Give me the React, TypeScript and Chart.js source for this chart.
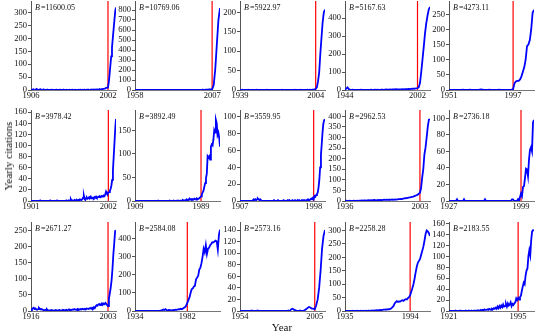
import React, { useEffect, useRef } from "react";
import { Chart, registerables } from "chart.js";

Chart.register(...registerables);

const B_VALUES = [11600.05, 10769.06, 5922.97, 5167.63, 4273.11, 3978.42, 3892.49, 3559.95, 2962.53, 2736.18, 2671.27, 2584.08, 2573.16, 2258.28, 2183.55];
const START_YEARS = [1906, 1958, 1939, 1944, 1951, 1901, 1909, 1907, 1936, 1927, 1916, 1934, 1954, 1935, 1921];
const AWAKE_YEARS = [2002, 2007, 2004, 2002, 1997, 2002, 1989, 1998, 2003, 1999, 2003, 1982, 2005, 1994, 1995];
const END_YEAR = 2012;
const Y_MAX = [345, 890, 229, 495, 294, 164, 193, 108, 430, 110, 276, 493, 154, 332, 163];
const Y_STEP = [50, 100, 50, 100, 50, 20, 50, 20, 50, 20, 50, 100, 20, 50, 20];
const Y_TOP_TICK = [300, 800, 200, 400, 250, 160, 150, 100, 400, 100, 250, 400, 140, 300, 160];

// yearly citations, one value per year from the start year to 2012
const CITES_1 = [
  0, 1, 2, 3, 1, 0, 2, 4, 1, 0,
  1, 2, 3, 1, 0, 1, 2, 1, 0, 1,
  0, 1, 0, 0, 1, 0, 0, 1, 0, 0,
  0, 0, 1, 0, 0, 0, 0, 1, 0, 0,
  0, 1, 0, 0, 1, 0, 0, 0, 1, 0,
  0, 0, 1, 0, 0, 1, 0, 0, 0, 1,
  0, 0, 1, 0, 1, 0, 0, 1, 0, 1,
  0, 1, 1, 0, 1, 2, 1, 1, 2, 1,
  2, 1, 2, 2, 1, 2, 3, 2, 3, 3,
  4, 4, 5, 7, 8, 9, 10, 30, 60, 95,
  130, 165, 200, 235, 270, 305, 320,
];
const CITES_2 = [
  0, 0, 1, 0, 0, 0, 1, 0, 0, 0,
  0, 0, 0, 1, 0, 0, 0, 0, 1, 0,
  0, 0, 0, 1, 0, 0, 1, 0, 0, 1,
  0, 1, 0, 0, 1, 1, 0, 1, 1, 2,
  1, 2, 2, 3, 2, 3, 4, 5, 6, 8,
  50, 210, 460, 700, 820,
];
const CITES_3 = [
  0, 0, 1, 0, 0, 0, 0, 1, 0, 0,
  0, 0, 0, 0, 1, 0, 0, 0, 0, 0,
  0, 0, 0, 1, 0, 0, 0, 0, 0, 0,
  0, 0, 0, 0, 0, 0, 1, 0, 0, 0,
  0, 0, 0, 0, 0, 0, 0, 1, 0, 0,
  0, 0, 1, 0, 0, 0, 0, 0, 1, 0,
  1, 0, 1, 1, 1, 3, 7, 22, 45, 94,
  135, 175, 200, 207,
];
const CITES_4 = [
  2, 8, 15, 5, 2, 1, 2, 1, 0, 1,
  1, 0, 1, 2, 1, 0, 1, 1, 0, 1,
  1, 2, 1, 1, 2, 1, 2, 1, 1, 2,
  2, 1, 2, 3, 2, 2, 3, 2, 3, 3,
  3, 4, 3, 3, 4, 4, 5, 4, 5, 5,
  5, 6, 5, 6, 7, 7, 8, 9, 10, 15,
  40, 100, 170, 240, 315, 370, 413, 448, 462,
];
const CITES_5 = [
  0, 0, 0, 0, 0, 0, 0, 0, 0, 0,
  1, 0, 0, 0, 0, 1, 0, 0, 0, 0,
  0, 0, 1, 2, 1, 0, 0, 0, 0, 1,
  0, 0, 0, 0, 0, 0, 1, 0, 0, 0,
  0, 0, 0, 0, 0, 1, 3, 22, 28, 30,
  30, 35, 45, 60, 75, 100, 145, 150, 165, 200,
  255, 265,
];
const CITES_6 = [
  0, 0, 0, 0, 0, 0, 0, 0, 0, 0,
  0, 0, 1, 0, 0, 0, 0, 0, 0, 0,
  0, 0, 0, 0, 0, 1, 0, 0, 0, 0,
  0, 0, 0, 0, 1, 0, 0, 0, 0, 0,
  0, 0, 0, 0, 0, 0, 1, 0, 0, 1,
  0, 1, 3, 0, 1, 0, 1, 2, 1, 1,
  2, 1, 2, 1, 3, 2, 2, 3, 6, 10,
  4, 2, 5, 6, 4, 5, 7, 6, 8, 5,
  5, 6, 5, 7, 6, 8, 6, 7, 8, 7,
  8, 7, 9, 8, 9, 10, 9, 12, 17, 14,
  12, 15, 16, 18, 22, 28, 38, 55, 80, 105,
  130, 148,
];
const CITES_7 = [
  0, 0, 0, 0, 0, 0, 0, 0, 0, 0,
  0, 0, 0, 0, 0, 0, 0, 0, 0, 0,
  0, 0, 0, 0, 0, 0, 0, 0, 1, 0,
  0, 0, 0, 0, 0, 0, 0, 0, 0, 0,
  0, 0, 1, 0, 0, 0, 0, 1, 0, 0,
  0, 1, 0, 1, 0, 1, 1, 0, 2, 1,
  1, 2, 1, 3, 2, 2, 5, 3, 4, 3,
  4, 3, 5, 4, 3, 5, 4, 5, 6, 8,
  10, 14, 18, 22, 30, 38, 48, 58, 95, 92,
  95, 88, 115, 120, 118, 130, 150, 145, 172, 165,
  140, 145, 135, 115,
];
const CITES_8 = [
  0, 0, 0, 0, 0, 0, 0, 0, 0, 0,
  0, 0, 0, 0, 0, 0, 1, 2, 1, 2,
  1, 2, 3, 2, 1, 2, 1, 0, 0, 0,
  0, 0, 0, 0, 0, 0, 0, 0, 0, 0,
  0, 0, 1, 0, 0, 0, 0, 1, 0, 0,
  0, 0, 0, 0, 1, 0, 0, 0, 0, 1,
  0, 1, 0, 0, 0, 1, 0, 0, 1, 0,
  0, 1, 0, 1, 0, 0, 1, 1, 0, 1,
  1, 0, 1, 1, 2, 1, 1, 2, 3, 2,
  3, 2, 6, 5, 7, 8, 10, 16, 25, 40,
  55, 68, 82, 92, 96, 97,
];
const CITES_9 = [
  0, 1, 0, 0, 1, 0, 0, 0, 1, 0,
  1, 2, 1, 2, 2, 3, 2, 3, 3, 2,
  3, 4, 3, 4, 3, 4, 5, 4, 3, 4,
  5, 4, 5, 4, 5, 6, 5, 6, 5, 6,
  6, 5, 7, 6, 7, 8, 7, 8, 9, 9,
  10, 9, 11, 12, 13, 14, 15, 16, 17, 18,
  20, 21, 23, 25, 27, 30, 34, 39, 60, 110,
  150, 220, 252, 300, 350, 384, 386,
];
const CITES_10 = [
  0, 0, 0, 0, 0, 0, 0, 0, 2, 0,
  0, 0, 0, 0, 0, 2, 0, 0, 0, 0,
  0, 0, 0, 0, 0, 0, 0, 0, 0, 0,
  0, 0, 0, 0, 0, 0, 2, 0, 0, 0,
  0, 0, 0, 0, 0, 0, 0, 0, 0, 0,
  0, 0, 0, 0, 0, 0, 0, 0, 0, 0,
  0, 0, 0, 2, 2, 0, 0, 0, 0, 2,
  0, 5, 9, 6, 17, 18, 28, 39, 38, 30,
  50, 62, 65, 60, 95, 98,
];
const CITES_11 = [
  3, 5, 8, 10, 6, 8, 5, 4, 6, 10,
  7, 5, 6, 4, 3, 2, 4, 3, 5, 2,
  2, 1, 2, 3, 2, 1, 2, 1, 3, 2,
  1, 2, 3, 2, 1, 2, 4, 3, 2, 3,
  4, 2, 3, 5, 3, 4, 3, 5, 4, 6,
  4, 5, 3, 6, 5, 4, 6, 5, 7, 6,
  5, 7, 6, 8, 7, 6, 8, 9, 7, 10,
  8, 12, 9, 14, 18, 16, 20, 22, 18, 21,
  24, 19, 23, 21, 25, 22, 18, 15, 38, 55,
  72, 95, 130, 175, 210, 248, 250,
];
const CITES_12 = [
  0, 0, 0, 0, 1, 0, 0, 0, 0, 0,
  0, 0, 0, 0, 1, 0, 0, 0, 0, 0,
  0, 1, 0, 2, 3, 5, 8, 6, 10, 5,
  4, 6, 5, 3, 4, 6, 5, 7, 6, 8,
  10, 9, 12, 10, 14, 18, 22, 30, 45, 60,
  75, 100, 120, 125, 135, 140, 175, 185, 195, 230,
  240, 265, 300, 345, 325, 365, 316, 345, 350, 365,
  372, 381, 380, 385, 390, 385, 340, 420, 450,
];
const CITES_13 = [
  0, 0, 0, 0, 0, 0, 0, 0, 1, 0,
  0, 0, 1, 0, 0, 0, 0, 0, 0, 0,
  0, 0, 0, 0, 0, 0, 0, 0, 0, 0,
  0, 0, 0, 1, 0, 3, 4, 2, 1, 0,
  0, 1, 0, 0, 1, 3, 5, 7, 6, 4,
  4, 3, 10, 20, 40, 70, 108, 130, 140,
];
const CITES_14 = [
  0, 0, 0, 0, 0, 0, 0, 1, 0, 0,
  0, 1, 0, 0, 1, 0, 0, 1, 0, 1,
  0, 1, 1, 0, 2, 1, 1, 2, 2, 3,
  2, 3, 4, 3, 4, 5, 5, 6, 5, 7,
  6, 8, 10, 14, 19, 28, 33, 37, 34, 36,
  35, 38, 40, 38, 42, 44, 43, 48, 52, 58,
  72, 85, 100, 120, 144, 165, 180, 187, 194, 210,
  225, 240, 262, 287, 300, 297, 290, 280,
];
const CITES_15 = [
  0, 0, 0, 0, 0, 0, 0, 1, 0, 0,
  0, 0, 1, 0, 0, 0, 0, 0, 1, 0,
  0, 1, 0, 0, 1, 0, 0, 1, 0, 1,
  0, 1, 1, 0, 2, 1, 2, 1, 3, 2,
  2, 3, 2, 4, 3, 2, 4, 3, 5, 4,
  6, 4, 8, 5, 9, 6, 10, 7, 12, 8,
  9, 13, 8, 14, 10, 12, 16, 9, 13, 11,
  14, 16, 23, 20, 24, 21, 25, 28, 37, 45,
  52, 49, 65, 74, 78, 100, 111, 102, 130, 146, 148, 147,
];

const SERIES = [CITES_1, CITES_2, CITES_3, CITES_4, CITES_5, CITES_6, CITES_7, CITES_8, CITES_9, CITES_10, CITES_11, CITES_12, CITES_13, CITES_14, CITES_15];

const COL_X = [31, 135, 240, 345, 449];
const ROW_TOP = [1, 110, 222];
const ROW_H = [89, 91, 89];
const PLOT_W = 85;
const AXIS_W = 30;
const PAD_TOP = 8;
const PAD_RIGHT = 6;
const XAXIS_H = 14;
const FONT_FAMILY = "'Liberation Serif', 'Times New Roman', serif";

function Panel({ idx }: { idx: number }) {
  const ref = useRef<HTMLCanvasElement | null>(null);
  const row = Math.floor(idx / 5);
  const col = idx % 5;
  const W = AXIS_W + PLOT_W + PAD_RIGHT;
  const H = PAD_TOP + ROW_H[row] + XAXIS_H;
  const left = COL_X[col] - AXIS_W;
  const top = ROW_TOP[row] - PAD_TOP;

  useEffect(() => {
    const start = START_YEARS[idx];
    const awake = AWAKE_YEARS[idx];
    const ymax = Y_MAX[idx];
    const step = Y_STEP[idx];
    const topTick = Y_TOP_TICK[idx];
    const bPlugin = {
      id: "bLabel",
      afterDatasetsDraw(chart: any) {
        const { ctx, chartArea } = chart;
        ctx.save();
        ctx.fillStyle = "#111";
        ctx.textBaseline = "middle";
        const x0 = chartArea.left + 4;
        const y0 = chartArea.top + 7;
        ctx.font = "italic 8px " + FONT_FAMILY;
        ctx.fillText("B", x0, y0);
        const w = ctx.measureText("B").width;
        ctx.font = "8px " + FONT_FAMILY;
        ctx.fillText("=" + B_VALUES[idx].toFixed(2), x0 + w + 1, y0);
        ctx.restore();
      },
    };
    const chart = new Chart(ref.current as HTMLCanvasElement, {
      type: "line",
      data: {
        datasets: [
          {
            data: SERIES[idx].map((v, i) => ({ x: start + i, y: v })),
            borderColor: "#0000ff",
            borderWidth: 1.8,
            pointRadius: 0,
            tension: 0,
          },
          {
            data: [
              { x: awake, y: 0 },
              { x: awake, y: ymax },
            ],
            borderColor: "#ff0000",
            borderWidth: 1.2,
            pointRadius: 0,
          },
        ],
      },
      options: {
        responsive: false,
        animation: false,
        events: [],
        layout: { padding: { top: PAD_TOP, right: PAD_RIGHT, left: 0, bottom: 0 } },
        plugins: { legend: { display: false }, tooltip: { enabled: false } },
        scales: {
          x: {
            type: "linear",
            min: start,
            max: END_YEAR,
            afterBuildTicks: (s: any) => {
              s.ticks = [{ value: start }, { value: awake }];
            },
            afterFit: (s: any) => {
              s.height = XAXIS_H;
            },
            grid: { display: false, drawTicks: false },
            border: { display: true, color: "#777", width: 1 },
            ticks: {
              autoSkip: false,
              maxRotation: 0,
              padding: 1,
              color: "#111",
              font: { family: FONT_FAMILY, size: 8.5 },
              callback: (v: any) => String(v),
            },
          },
          y: {
            type: "linear",
            min: 0,
            max: ymax,
            afterBuildTicks: (s: any) => {
              const t: { value: number }[] = [];
              for (let v = 0; v <= topTick; v += step) t.push({ value: v });
              s.ticks = t;
            },
            afterFit: (s: any) => {
              s.width = AXIS_W;
            },
            grid: { drawOnChartArea: false, drawTicks: true, tickLength: 3, color: "#555" },
            border: { display: true, color: "#555", width: 1 },
            ticks: {
              autoSkip: false,
              padding: 1,
              color: "#111",
              font: { family: FONT_FAMILY, size: 8.5 },
              callback: (v: any) => String(v),
            },
          },
        },
      } as any,
      plugins: [bPlugin],
    });
    return () => chart.destroy();
  }, [idx]);

  return (
    <canvas
      ref={ref}
      width={W}
      height={H}
      style={{ position: "absolute", left, top, width: W, height: H }}
    />
  );
}

export default function App() {
  return (
    <div style={{ position: "absolute", left: 0, top: 0, width: 538, height: 333, background: "#fff", overflow: "hidden" }}>
      {SERIES.map((_, i) => (
        <Panel key={i} idx={i} />
      ))}
      <div
        style={{
          position: "absolute",
          left: 8,
          top: 156,
          transform: "translate(-50%, -50%) rotate(-90deg)",
          fontFamily: FONT_FAMILY,
          fontSize: 11,
          whiteSpace: "nowrap",
          color: "#111",
        }}
      >
        Yearly citations
      </div>
      <div
        style={{
          position: "absolute",
          left: 282,
          top: 327,
          transform: "translate(-50%, -50%)",
          fontFamily: FONT_FAMILY,
          fontSize: 11,
          whiteSpace: "nowrap",
          color: "#111",
        }}
      >
        Year
      </div>
    </div>
  );
}
